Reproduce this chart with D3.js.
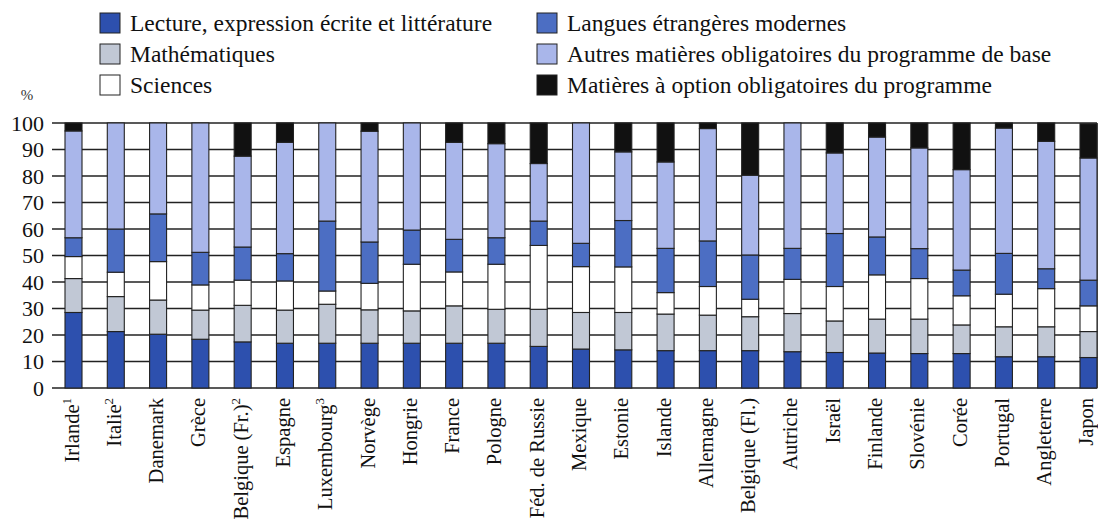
<!DOCTYPE html>
<html>
<head>
<meta charset="utf-8">
<script src="https://cdn.jsdelivr.net/npm/d3@7"></script>
<style>
  body { margin: 0; background: #fff; }
  svg { font-family: "Liberation Serif", serif; }
</style>
</head>
<body>
<svg id="chart" width="1098" height="528"></svg>
<script>
// countries, left to right (footnote numbers kept apart)
const countries = ["Irlande", "Italie", "Danemark", "Grèce", "Belgique (Fr.)", "Espagne", "Luxembourg",
  "Norvège", "Hongrie", "France", "Pologne", "Féd. de Russie", "Mexique", "Estonie", "Islande",
  "Allemagne", "Belgique (Fl.)", "Autriche", "Israël", "Finlande", "Slovénie", "Corée", "Portugal",
  "Angleterre", "Japon"];
const footnotes = {"Irlande": "1", "Italie": "2", "Belgique (Fr.)": "2", "Luxembourg": "3"};

// % of instruction time
const lecture  = [28.5, 21.3, 20.3, 18.4, 17.4, 16.9, 16.9, 16.9, 16.9, 16.9, 16.9, 15.7, 14.7, 14.4, 14.1, 14.1, 14.1, 13.7, 13.4, 13.2, 13.0, 13.0, 11.8, 11.8, 11.5];
const maths    = [12.8, 13.2, 12.9, 11.0, 13.8, 12.5, 14.7, 12.6, 12.2, 14.1, 12.8, 14.0, 13.8, 14.1, 13.8, 13.4, 12.8, 14.4, 11.9, 12.8, 13.0, 10.8, 11.3, 11.3, 9.8];
const sciences = [8.3, 9.2, 14.5, 9.5, 9.5, 11.0, 5.0, 10.0, 17.6, 12.8, 17.0, 24.1, 17.3, 17.2, 8.1, 10.8, 6.6, 12.9, 13.0, 16.7, 15.3, 11.0, 12.3, 14.4, 9.7];
const langues  = [7.1, 16.3, 18.0, 12.3, 12.5, 10.3, 26.4, 15.6, 12.9, 12.3, 10.0, 9.2, 8.8, 17.5, 16.7, 17.2, 16.7, 11.7, 20.0, 14.3, 11.3, 9.7, 15.4, 7.5, 9.7];
const autres   = [40.3, 40.0, 34.3, 48.8, 34.3, 42.0, 37.0, 41.8, 40.4, 36.6, 35.5, 21.7, 45.4, 25.9, 32.6, 42.4, 30.1, 47.3, 30.4, 37.7, 38.0, 37.9, 47.3, 48.1, 46.1];
const options  = [3.0, 0, 0, 0, 12.5, 7.3, 0, 3.1, 0, 7.3, 7.8, 15.3, 0, 10.9, 14.7, 2.1, 19.7, 0, 11.3, 5.3, 9.4, 17.6, 1.9, 6.9, 12.9];

const seriesNames = ["Lecture, expression écrite et littérature", "Mathématiques", "Sciences",
  "Langues étrangères modernes", "Autres matières obligatoires du programme de base",
  "Matières à option obligatoires du programme"];
const seriesValues = [lecture, maths, sciences, langues, autres, options];
const yTicks = [0, 10, 20, 30, 40, 50, 60, 70, 80, 90, 100];

const colors = ["#2d50ae", "#c1c8d5", "#ffffff", "#4c6ec3", "#a9b6ea", "#111111"];

const svg = d3.select("#chart");

const rows = countries.map((c, i) => {
  const r = {country: c};
  seriesValues.forEach((s, k) => r["s" + k] = s[i]);
  return r;
});
const keys = seriesValues.map((s, k) => "s" + k);
const stacked = d3.stack().keys(keys)(rows);

const x = d3.scaleBand().domain(countries).range([65, 1097]).paddingInner(0.598).paddingOuter(0);
const y = d3.scaleLinear().domain([0, 100]).range([388, 123]);
const left = 52, right = 1097;

// horizontal grid lines
svg.append("g").selectAll("line").data(yTicks).join("line")
  .attr("x1", left).attr("x2", right)
  .attr("y1", d => y(d)).attr("y2", d => y(d))
  .attr("stroke", "#222").attr("stroke-width", 1.4);
svg.append("line")
  .attr("x1", right).attr("x2", right).attr("y1", y(100)).attr("y2", y(0))
  .attr("stroke", "#222").attr("stroke-width", 1.4);

// y tick labels
svg.append("g").selectAll("text").data(yTicks).join("text")
  .attr("x", 44).attr("y", d => y(d)).attr("dy", "0.35em")
  .attr("text-anchor", "end").attr("font-size", 22).attr("fill", "#111")
  .text(d => d);
svg.append("text").attr("x", 27).attr("y", 95).attr("dy", "0.35em")
  .attr("text-anchor", "middle").attr("font-size", 15).attr("fill", "#333").text("%");

// stacked bars
svg.append("g").selectAll("g").data(stacked).join("g")
  .attr("fill", (d, k) => colors[k])
  .selectAll("rect").data(d => d.filter(v => v[1] - v[0] > 0)).join("rect")
  .attr("x", d => x(d.data.country))
  .attr("width", x.bandwidth())
  .attr("y", d => y(d[1]))
  .attr("height", d => y(d[0]) - y(d[1]))
  .attr("stroke", "#222").attr("stroke-width", 1.1);

// x labels, rotated
const lab = svg.append("g").selectAll("text").data(countries).join("text")
  .attr("transform", d => `translate(${x(d) + x.bandwidth() / 2 + 5},398) rotate(-90)`)
  .attr("text-anchor", "end").attr("font-size", 20.5).attr("fill", "#111");
lab.append("tspan").text(d => d);
lab.filter(d => footnotes[d]).append("tspan")
  .attr("dy", -8).attr("font-size", 13).text(d => footnotes[d]);

// legend, two columns of three
const legendPos = [[100, 23], [100, 54], [100, 85], [537, 23], [537, 54], [537, 85]];
const leg = svg.append("g").selectAll("g").data(seriesNames).join("g")
  .attr("transform", (d, k) => `translate(${legendPos[k][0]},${legendPos[k][1]})`);
leg.append("rect").attr("x", 0).attr("y", -10).attr("width", 20).attr("height", 20)
  .attr("fill", (d, k) => colors[k]).attr("stroke", "#222").attr("stroke-width", 1);
leg.append("text").attr("x", 30).attr("dy", "0.35em").attr("font-size", 23.5).attr("fill", "#111")
  .text(d => d);
</script>
</body>
</html>
